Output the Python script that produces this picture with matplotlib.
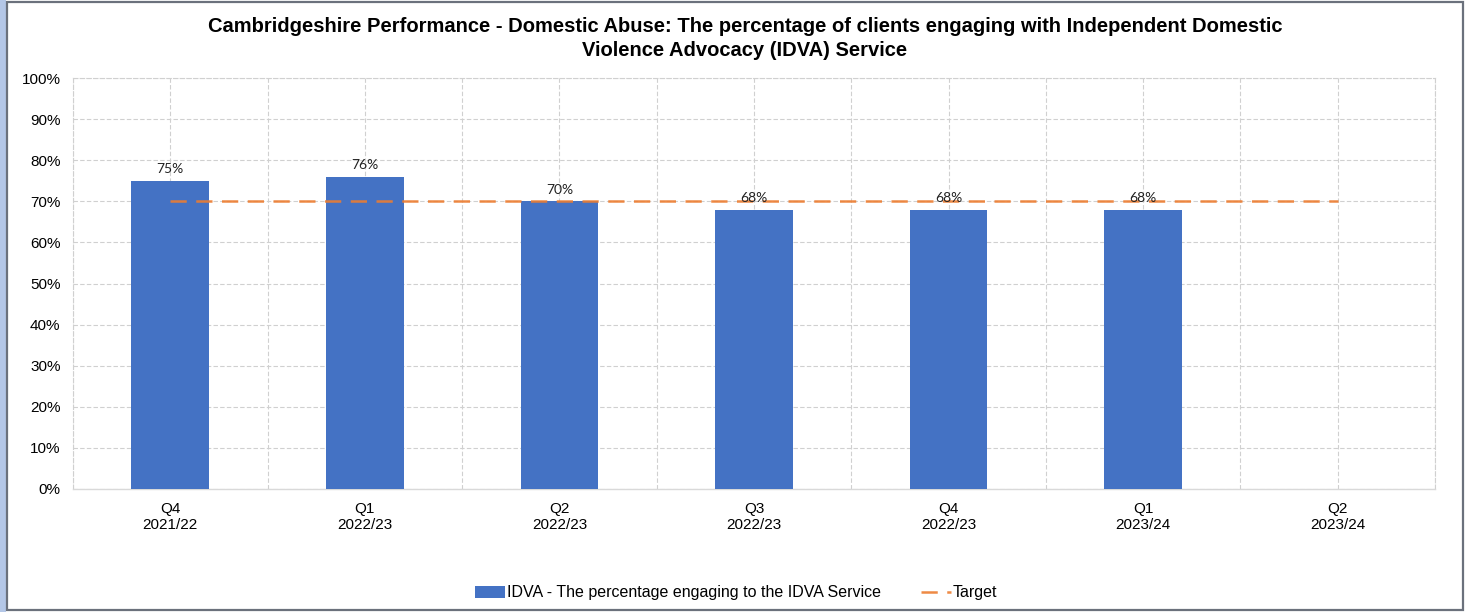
import matplotlib
matplotlib.use("Agg")
import matplotlib.pyplot as plt
from matplotlib.patches import Rectangle
from matplotlib.ticker import FuncFormatter, MultipleLocator
import numpy as np

quarters = ["Q4\n2021/22", "Q1\n2022/23", "Q2\n2022/23", "Q3\n2022/23",
            "Q4\n2022/23", "Q1\n2023/24", "Q2\n2023/24"]
idva_pct = [75, 76, 70, 68, 68, 68, None]
target_pct = [70, 70, 70, 70, 70, 70, 70]

title = ("Cambridgeshire Performance - Domestic Abuse: The percentage of clients engaging with Independent Domestic\n"
         "Violence Advocacy (IDVA) Service")
bar_label = "IDVA - The percentage engaging to the IDVA Service"
target_label = "Target"

BAR_COLOR = "#4472C4"
TARGET_COLOR = "#ED7D31"
GRID_COLOR = "#D0D0D0"

W, H = 1466, 612
plt.rcParams["font.family"] = ["Liberation Sans", "DejaVu Sans"]
fig = plt.figure(figsize=(W / 100, H / 100), dpi=100)

# outer frame
fig.patches.append(Rectangle((0, 0), 6 / W, 1, transform=fig.transFigure,
                             facecolor="#B4C7E7", edgecolor="none", zorder=0))
fig.patches.append(Rectangle((7 / W, 2 / H), (1463 - 7) / W, (610 - 2) / H,
                             transform=fig.transFigure, facecolor="none",
                             edgecolor="#6B717C", linewidth=1.6, zorder=5))

ax = fig.add_axes([73 / W, 1 - 489 / H, (1435 - 73) / W, (489 - 78) / H])

x = np.arange(len(quarters))
vals = [np.nan if v is None else v for v in idva_pct]
bars = ax.bar(x, vals, width=0.40, color=BAR_COLOR, zorder=3, label=bar_label)
target_line, = ax.plot(x, target_pct, color=TARGET_COLOR, linewidth=1.8,
                       linestyle=(0, (6.5, 3.8)), zorder=4, label=target_label,
                       alpha=0.9)

for xi, v in zip(x, idva_pct):
    if v is None:
        continue
    ax.annotate(f"{v}%", (xi, v), xytext=(0, 4), textcoords="offset points",
                ha="center", va="bottom", fontsize=10,
                family=["Lato", "DejaVu Sans"], color="#222222", zorder=6)

ax.set_xlim(-0.5, len(quarters) - 0.5)
ax.set_ylim(0, 100)
ax.yaxis.set_major_locator(MultipleLocator(10))
ax.yaxis.set_major_formatter(FuncFormatter(lambda v, p: f"{v:.0f}%"))
ax.set_xticks(x)
ax.set_xticklabels(quarters, fontsize=11, linespacing=1.2)
ax.set_xticks(np.arange(-0.5, len(quarters), 1.0), minor=True)
ax.tick_params(axis="y", labelsize=11, length=0, pad=9)
ax.tick_params(axis="x", which="both", length=0, pad=9)

ax.grid(True, which="major", axis="both", color=GRID_COLOR, linestyle=(0, (4, 2)),
        linewidth=0.8, zorder=0)
ax.grid(True, which="minor", axis="x", color=GRID_COLOR, linestyle=(0, (4, 2)),
        linewidth=0.8, zorder=0)
for side in ["top", "right", "left"]:
    ax.spines[side].set_color(GRID_COLOR)
    ax.spines[side].set_linestyle((0, (4, 2)))
    ax.spines[side].set_linewidth(0.8)
ax.spines["bottom"].set_color("#D9D9D9")
ax.spines["bottom"].set_linewidth(1.0)

fig.text(745 / W, 1 - 38.5 / H, title, ha="center", va="center",
         fontsize=14.5, fontweight="bold", linespacing=1.3)

fig.legend(handles=[bars, target_line], labels=[bar_label, target_label],
           loc="center", bbox_to_anchor=(736 / W, 1 - 593 / H), ncol=2,
           frameon=False, fontsize=11.5, handlelength=1.9, handletextpad=0.1,
           columnspacing=2.5)

fig.savefig("out.png", dpi=100)
